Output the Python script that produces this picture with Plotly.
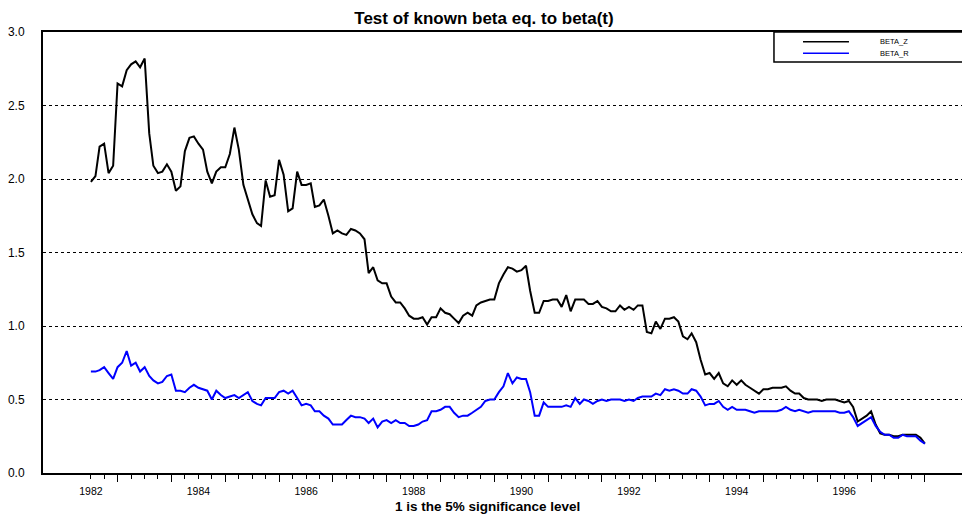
import plotly.graph_objects as go
import pandas as pd

# monthly observations, 1982:01 - 1997:07
START_MONTH = "1982-01-01"

beta_z = [
    1.98, 2.02, 2.22, 2.24, 2.04, 2.09, 2.65, 2.63, 2.74, 2.78, 2.80, 2.76,
    2.82, 2.31, 2.09, 2.04, 2.05, 2.10, 2.05, 1.92, 1.95, 2.19, 2.28, 2.29,
    2.24, 2.20, 2.05, 1.97, 2.05, 2.08, 2.08, 2.17, 2.35, 2.20, 1.96, 1.86,
    1.76, 1.70, 1.68, 1.99, 1.88, 1.89, 2.13, 2.03, 1.78, 1.80, 2.05, 1.96,
    1.96, 1.97, 1.81, 1.82, 1.86, 1.75, 1.63, 1.65, 1.63, 1.62, 1.66, 1.65,
    1.63, 1.59, 1.36, 1.40, 1.31, 1.29, 1.29, 1.20, 1.16, 1.16, 1.12, 1.07,
    1.05, 1.05, 1.06, 1.01, 1.06, 1.06, 1.12, 1.09, 1.08, 1.05, 1.02, 1.07,
    1.09, 1.07, 1.14, 1.16, 1.17, 1.18, 1.18, 1.29, 1.35, 1.40, 1.39, 1.37,
    1.38, 1.41, 1.24, 1.09, 1.09, 1.17, 1.17, 1.18, 1.18, 1.13, 1.21, 1.10,
    1.18, 1.18, 1.18, 1.15, 1.15, 1.17, 1.13, 1.12, 1.10, 1.10, 1.14, 1.11,
    1.13, 1.11, 1.14, 1.14, 0.96, 0.95, 1.03, 0.98, 1.05, 1.05, 1.06, 1.03,
    0.93, 0.91, 0.95, 0.89, 0.77, 0.67, 0.68, 0.64, 0.68, 0.61, 0.59, 0.63,
    0.60, 0.63, 0.60, 0.58, 0.56, 0.54, 0.57, 0.57, 0.58, 0.58, 0.58, 0.59,
    0.56, 0.54, 0.54, 0.51, 0.50, 0.50, 0.50, 0.49, 0.50, 0.50, 0.50, 0.49,
    0.48, 0.49, 0.45, 0.35, 0.37, 0.39, 0.42, 0.33, 0.27, 0.26, 0.26, 0.25,
    0.25, 0.26, 0.26, 0.26, 0.26, 0.24, 0.20,
]

beta_r = [
    0.69, 0.69, 0.70, 0.72, 0.68, 0.64, 0.72, 0.75, 0.83, 0.73, 0.75, 0.69,
    0.72, 0.66, 0.63, 0.61, 0.62, 0.66, 0.67, 0.56, 0.56, 0.55, 0.58, 0.60,
    0.58, 0.57, 0.56, 0.50, 0.56, 0.53, 0.51, 0.52, 0.53, 0.51, 0.53, 0.55,
    0.49, 0.47, 0.46, 0.51, 0.51, 0.51, 0.55, 0.56, 0.54, 0.56, 0.51, 0.46,
    0.47, 0.46, 0.42, 0.42, 0.39, 0.37, 0.33, 0.33, 0.33, 0.36, 0.39, 0.38,
    0.38, 0.37, 0.34, 0.37, 0.31, 0.35, 0.36, 0.34, 0.36, 0.34, 0.34, 0.32,
    0.32, 0.33, 0.35, 0.36, 0.42, 0.42, 0.43, 0.45, 0.45, 0.41, 0.38, 0.39,
    0.39, 0.41, 0.43, 0.45, 0.49, 0.50, 0.50, 0.55, 0.59, 0.68, 0.61, 0.65,
    0.64, 0.64, 0.55, 0.39, 0.39, 0.48, 0.45, 0.45, 0.45, 0.45, 0.46, 0.45,
    0.51, 0.47, 0.50, 0.49, 0.47, 0.49, 0.50, 0.49, 0.50, 0.50, 0.50, 0.49,
    0.50, 0.49, 0.51, 0.52, 0.52, 0.52, 0.54, 0.53, 0.57, 0.56, 0.57, 0.56,
    0.54, 0.54, 0.57, 0.56, 0.52, 0.46, 0.47, 0.47, 0.49, 0.45, 0.43, 0.45,
    0.43, 0.43, 0.43, 0.42, 0.41, 0.42, 0.42, 0.42, 0.42, 0.42, 0.43, 0.45,
    0.43, 0.42, 0.43, 0.42, 0.41, 0.42, 0.42, 0.42, 0.42, 0.42, 0.42, 0.41,
    0.41, 0.42, 0.38, 0.32, 0.34, 0.36, 0.38, 0.32, 0.28, 0.26, 0.26, 0.24,
    0.24, 0.26, 0.25, 0.25, 0.25, 0.22, 0.20,
]

label_years = [1982, 1984, 1986, 1988, 1990, 1992, 1994, 1996]
y_ticks = [0.0, 0.5, 1.0, 1.5, 2.0, 2.5, 3.0]

FONT = "Liberation Sans, Arial, Helvetica, sans-serif"

dates = pd.date_range(START_MONTH, periods=len(beta_z), freq="MS")

# quarterly ticks; July ticks are drawn longer
quarters = pd.date_range("1982-01-01", "1997-07-01", freq="QS")
short_ticks = [d for d in quarters if d.month != 7]
long_ticks = [d for d in quarters if d.month == 7]
short_text = [str(d.year) if (d.month == 1 and d.year in label_years) else "" for d in short_ticks]

fig = go.Figure()
fig.add_trace(go.Scatter(x=dates, y=beta_z, mode="lines", name="BETA_Z",
                         line=dict(color="black", width=2), showlegend=False))
fig.add_trace(go.Scatter(x=dates, y=beta_r, mode="lines", name="BETA_R",
                         line=dict(color="#0000ff", width=2), showlegend=False))

fig.update_layout(
    width=962, height=514,
    margin=dict(l=43, r=0, t=32, b=41),
    plot_bgcolor="white", paper_bgcolor="white",
    font=dict(family=FONT, color="black", size=10.5),
    title=dict(text="<b>Test of known beta eq. to beta(t)</b>", x=484 / 962, xanchor="center",
               xref="container", y=1 - 18 / 514, yref="container", yanchor="middle",
               font=dict(size=17, family=FONT)),
    xaxis=dict(
        range=["1981-02-10", "1998-03-10"],
        tickmode="array", tickvals=short_ticks, ticktext=short_text,
        ticks="outside", ticklen=4, tickwidth=1, tickcolor="black",
        ticklabelstandoff=3, automargin=False,
        minor=dict(tickmode="array", tickvals=long_ticks, ticks="outside",
                   ticklen=7, tickwidth=1, tickcolor="black", showgrid=False),
        showgrid=False, zeroline=False,
        showline=True, linecolor="black", linewidth=2, mirror=True,
    ),
    yaxis=dict(
        range=[0, 3], tickmode="array", tickvals=y_ticks,
        ticktext=[f"{v:.1f}" for v in y_ticks], ticks="",
        ticklabelstandoff=14, tickfont=dict(size=12), automargin=False,
        showgrid=True, gridcolor="black", gridwidth=1, griddash="dot",
        zeroline=False, showline=True, linecolor="black", linewidth=2,
    ),
)

# axis caption under the dates (paper coords: plot spans px 43..962, 32..473)
fig.add_annotation(x=(487 - 43) / 919, y=(473 - 506) / 441, xref="paper", yref="paper",
                   text="<b>1 is the 5% significance level</b>", showarrow=False,
                   xanchor="center", yanchor="middle", font=dict(size=13.5, family=FONT))

# legend box in the top right corner
fig.add_shape(type="rect", xref="paper", yref="paper", x0=0.7954, x1=1.03,
              y0=0.932, y1=1.0, line=dict(color="black", width=1.5),
              fillcolor="white", layer="above")
for yy, name, colr in [(0.978, "BETA_Z", "black"), (0.9517, "BETA_R", "#0000ff")]:
    fig.add_shape(type="line", xref="paper", yref="paper", x0=0.827, x1=0.877,
                  y0=yy, y1=yy, line=dict(color=colr, width=1.5), layer="above")
    fig.add_annotation(x=0.9086, y=yy, xref="paper", yref="paper", text=name,
                       showarrow=False, xanchor="left", yanchor="middle",
                       font=dict(size=7.5, family=FONT))

fig.write_html("out.html", config={"displayModeBar": False},
               post_script="document.body.style.margin='0';")
